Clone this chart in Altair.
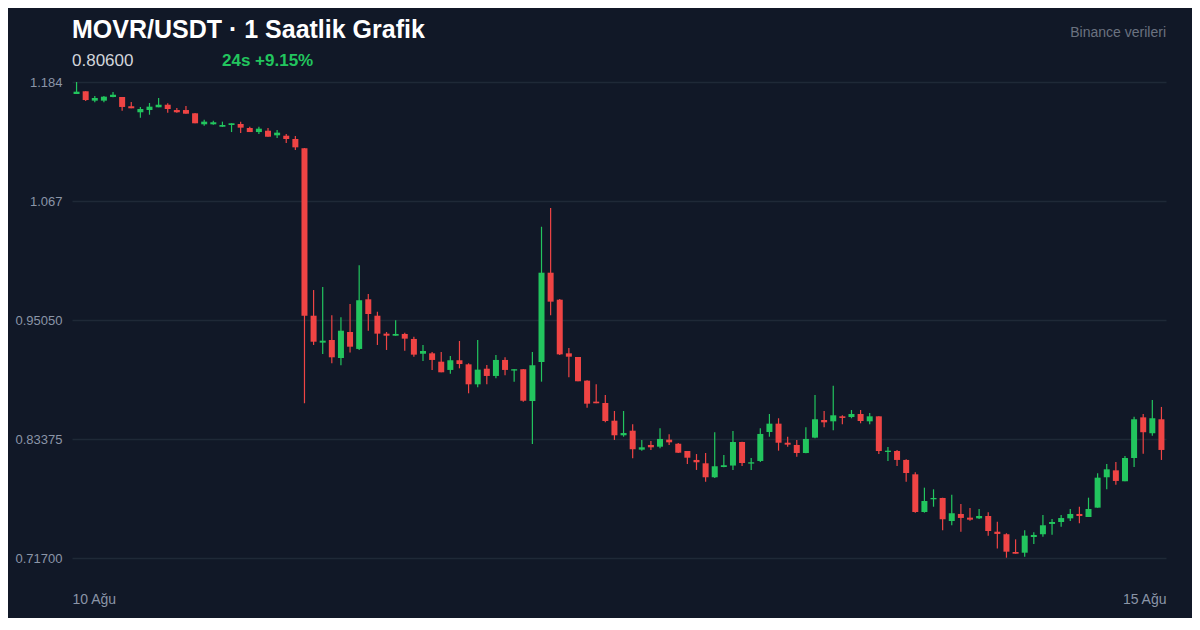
import altair as alt
import pandas as pd

# ---- data ----
opens = [1.1722, 1.1749, 1.1657, 1.1657, 1.1693, 1.1693, 1.1602, 1.1543, 1.1565, 1.1592,
         1.1617, 1.1565, 1.1565, 1.1533, 1.1425, 1.1425, 1.1401, 1.1418, 1.1428, 1.1389,
         1.1349, 1.1362, 1.1317, 1.1313, 1.1281, 1.1190, 0.9547, 0.9283, 0.9309, 0.9132,
         0.9387, 0.9221, 0.9708, 0.9547, 0.9371, 0.9351, 0.9368, 0.9319, 0.9174, 0.9178,
         0.9096, 0.9015, 0.9110, 0.9070, 0.8874, 0.9027, 0.8956, 0.9113, 0.9009, 0.9022,
         0.8710, 0.9093, 0.9969, 0.9704, 0.9178, 0.9142, 0.8910, 0.8704, 0.8691, 0.8517,
         0.8374, 0.8419, 0.8233, 0.8279, 0.8262, 0.8331, 0.8291, 0.8220, 0.8132, 0.8099,
         0.7962, 0.8063, 0.8077, 0.8308, 0.8096, 0.8122, 0.8406, 0.8488, 0.8301, 0.8279,
         0.8200, 0.8351, 0.8524, 0.8511, 0.8560, 0.8553, 0.8583, 0.8511, 0.8560, 0.8210,
         0.8220, 0.8132, 0.7991, 0.7621, 0.7746, 0.7759, 0.7533, 0.7602, 0.7566, 0.7559,
         0.7582, 0.7428, 0.7403, 0.7229, 0.7222, 0.7376, 0.7403, 0.7504, 0.7523, 0.7559,
         0.7602, 0.7572, 0.7664, 0.7962, 0.8030, 0.7923, 0.8151, 0.8550, 0.8394, 0.8531]
highs = [1.1840, 1.1749, 1.1703, 1.1703, 1.1742, 1.1693, 1.1644, 1.1595, 1.1634, 1.1683,
         1.1631, 1.1585, 1.1605, 1.1536, 1.1470, 1.1460, 1.1451, 1.1435, 1.1451, 1.1401,
         1.1401, 1.1389, 1.1369, 1.1330, 1.1310, 1.1193, 0.9799, 0.9829, 0.9551, 0.9532,
         0.9662, 1.0042, 0.9760, 0.9586, 0.9387, 0.9502, 0.9381, 0.9341, 0.9260, 0.9191,
         0.9191, 0.9152, 0.9299, 0.9080, 0.9309, 0.9064, 0.9162, 0.9139, 0.9022, 0.9025,
         0.9191, 1.0420, 1.0604, 0.9711, 0.9230, 0.9142, 0.8913, 0.8874, 0.8769, 0.8612,
         0.8612, 0.8482, 0.8328, 0.8318, 0.8443, 0.8384, 0.8298, 0.8220, 0.8190, 0.8200,
         0.8403, 0.8181, 0.8416, 0.8311, 0.8151, 0.8443, 0.8583, 0.8541, 0.8360, 0.8328,
         0.8452, 0.8769, 0.8612, 0.8861, 0.8570, 0.8622, 0.8622, 0.8593, 0.8560, 0.8259,
         0.8230, 0.8139, 0.8011, 0.7860, 0.7844, 0.7762, 0.7791, 0.7700, 0.7660, 0.7651,
         0.7618, 0.7526, 0.7413, 0.7353, 0.7442, 0.7422, 0.7592, 0.7553, 0.7592, 0.7651,
         0.7673, 0.7762, 0.8001, 0.8092, 0.8112, 0.8171, 0.8557, 0.8583, 0.8720, 0.8652]
lows = [1.1722, 1.1654, 1.1641, 1.1641, 1.1690, 1.1558, 1.1582, 1.1490, 1.1519, 1.1592,
        1.1539, 1.1539, 1.1529, 1.1435, 1.1411, 1.1421, 1.1399, 1.1349, 1.1340, 1.1349,
        1.1330, 1.1303, 1.1291, 1.1242, 1.1173, 0.8688, 0.9260, 0.9172, 0.9080, 0.9061,
        0.9185, 0.9211, 0.9400, 0.9260, 0.9211, 0.9351, 0.9204, 0.9145, 0.9103, 0.9015,
        0.8992, 0.8978, 0.9031, 0.8786, 0.8845, 0.8874, 0.8933, 0.8962, 0.8900, 0.8704,
        0.8289, 0.8900, 0.9551, 0.9162, 0.8943, 0.8904, 0.8645, 0.8688, 0.8501, 0.8328,
        0.8360, 0.8148, 0.8223, 0.8230, 0.8246, 0.8279, 0.8200, 0.8092, 0.8034, 0.7919,
        0.7955, 0.8060, 0.8034, 0.8073, 0.8034, 0.8112, 0.8360, 0.8223, 0.8262, 0.8164,
        0.8197, 0.8345, 0.8452, 0.8423, 0.8482, 0.8541, 0.8492, 0.8482, 0.8190, 0.8122,
        0.8073, 0.7919, 0.7615, 0.7615, 0.7673, 0.7442, 0.7491, 0.7428, 0.7536, 0.7553,
        0.7389, 0.7262, 0.7173, 0.7212, 0.7183, 0.7307, 0.7379, 0.7399, 0.7477, 0.7533,
        0.7510, 0.7572, 0.7664, 0.7844, 0.7889, 0.7923, 0.8063, 0.8193, 0.8370, 0.8132]
closes = [1.1745, 1.1663, 1.1683, 1.1696, 1.1715, 1.1595, 1.1582, 1.1575, 1.1598, 1.1617,
          1.1575, 1.1543, 1.1529, 1.1435, 1.1451, 1.1445, 1.1418, 1.1435, 1.1392, 1.1349,
          1.1382, 1.1303, 1.1343, 1.1281, 1.1199, 0.9547, 0.9292, 0.9302, 0.9139, 0.9400,
          0.9243, 0.9699, 0.9564, 0.9371, 0.9351, 0.9368, 0.9322, 0.9165, 0.9201, 0.9113,
          0.8992, 0.9110, 0.9073, 0.8874, 0.9018, 0.8956, 0.9113, 0.9015, 0.9022, 0.8713,
          0.9061, 0.9969, 0.9685, 0.9168, 0.9145, 0.8904, 0.8684, 0.8688, 0.8514, 0.8374,
          0.8396, 0.8237, 0.8256, 0.8256, 0.8338, 0.8305, 0.8203, 0.8154, 0.8109, 0.7962,
          0.8070, 0.8080, 0.8308, 0.8102, 0.8109, 0.8387, 0.8488, 0.8301, 0.8282, 0.8200,
          0.8338, 0.8531, 0.8501, 0.8570, 0.8544, 0.8583, 0.8514, 0.8560, 0.8220, 0.8223,
          0.8132, 0.8004, 0.7621, 0.7729, 0.7759, 0.7550, 0.7609, 0.7563, 0.7546, 0.7582,
          0.7435, 0.7406, 0.7232, 0.7212, 0.7389, 0.7396, 0.7491, 0.7523, 0.7562, 0.7602,
          0.7582, 0.7651, 0.7958, 0.8040, 0.7926, 0.8151, 0.8531, 0.8404, 0.8541, 0.8230]

y_ticks = [0.717, 0.83375, 0.9505, 1.06725, 1.184]
y_tick_labels = ["0.71700", "0.83375", "0.95050", "1.067", "1.184"]
x_tick_labels = ["10 Ağu", "15 Ağu"]

title_text = "MOVR/USDT · 1 Saatlik Grafik"
price_text = "0.80600"
change_text = "24s +9.15%"
source_text = "Binance verileri"

# ---- style ----
BG = "#111827"
GRID = "#1f2937"
GREEN = "#22c55e"
RED = "#ef4444"
LABEL = "#8b95a7"
FONT = "Liberation Sans"

n = len(opens)
df = pd.DataFrame({
    "i": list(range(n)),
    "open": opens,
    "high": highs,
    "low": lows,
    "close": closes,
})

# y label expression from the label lists
expr = "'" + y_tick_labels[-1] + "'"
for v, lab in reversed(list(zip(y_ticks[:-1], y_tick_labels[:-1]))):
    expr = f"datum.value < {v + 0.01} ? '{lab}' : ({expr})"

x_scale = alt.Scale(domain=[-0.5, n - 0.5], nice=False, zero=False, padding=0)
y_scale = alt.Scale(domain=[y_ticks[0], y_ticks[-1]], nice=False, zero=False, padding=0)

x_axis = alt.Axis(
    values=[-0.5, n - 0.5],
    labelExpr=f"datum.value < 0 ? '{x_tick_labels[0]}' : '{x_tick_labels[1]}'",
    labelFlush=True, grid=False, domain=False, ticks=False,
    labelPadding=34, labelFontSize=14, labelColor=LABEL, labelFont=FONT, title=None,
)
y_axis = alt.Axis(
    values=y_ticks, labelExpr=expr, grid=True, gridColor=GRID, gridWidth=1.5,
    domain=False, ticks=False, labelPadding=10, labelFontSize=13,
    labelColor=LABEL, labelFont=FONT, title=None,
)

color = alt.condition("datum.close >= datum.open", alt.value(GREEN), alt.value(RED))

base = alt.Chart(df)

wicks = base.mark_rule(strokeWidth=1.2).encode(
    x=alt.X("i:Q", scale=x_scale, axis=x_axis),
    y=alt.Y("low:Q", scale=y_scale, axis=y_axis),
    y2="high:Q",
    color=color,
)

bodies = base.mark_bar(width=6, cornerRadius=0).encode(
    x=alt.X("i:Q", scale=x_scale),
    y=alt.Y("open:Q", scale=y_scale),
    y2="close:Q",
    color=color,
)

one = alt.InlineData(values=[{"k": 1}])

def header(text, x, y, size, color, weight="normal", align="left"):
    return alt.Chart(one).mark_text(
        text=text, fontSize=size, fontWeight=weight, color=color, font=FONT,
        align=align, baseline="alphabetic",
    ).encode(x=alt.value(x), y=alt.value(y))

h_title = header(title_text, 0, -44, 25, "#ffffff", "bold")
h_price = header(price_text, 0, -16, 17, "#d1d5db")
h_change = header(change_text, 150, -16, 17, GREEN, "bold")
h_source = header(source_text, 1094, -45, 14, "#6b7280", align="right")

chart = alt.layer(wicks, bodies, h_title, h_price, h_change, h_source).properties(
    width=1094,
    height=476,
    padding={"left": 64, "top": 74, "right": 26, "bottom": 60},
    autosize=alt.AutoSizeParams(type="none"),
    background=BG,
).configure_view(strokeWidth=0)

chart.save("out.html", embed_options={"renderer": "svg", "actions": False})
